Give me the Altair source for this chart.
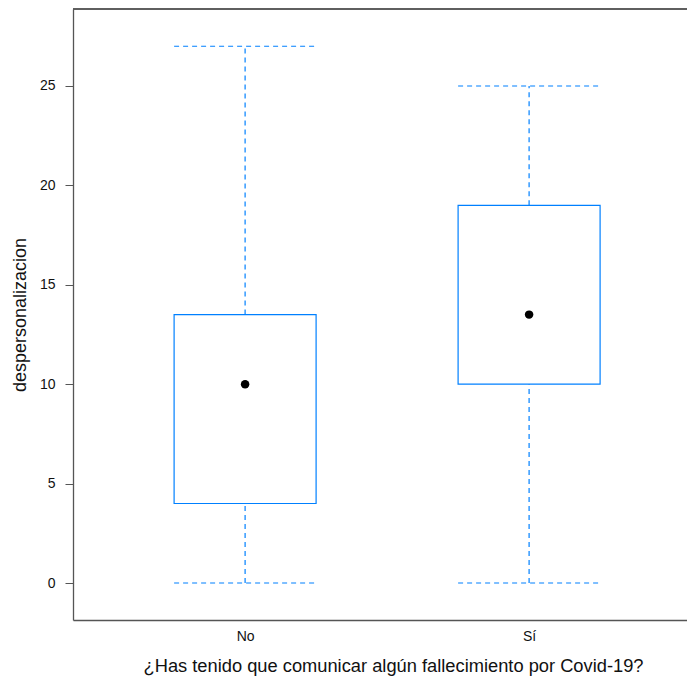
import altair as alt
import pandas as pd

# ---- data ----
categories = ["No", "Sí"]
positions = [1, 2]
whisker_low = [0, 0]
q1 = [4, 10]
median = [10, 13.5]
q3 = [13.5, 19]
whisker_high = [27, 25]
y_ticks = [0, 5, 10, 15, 20, 25]

df = pd.DataFrame({
    "cat": categories, "idx": positions, "lo": whisker_low, "q1": q1,
    "med": median, "q3": q3, "hi": whisker_high,
})

W, H = 614, 611
BLUE = "#0080ff"
FRAME = "#555555"
FONT = "Liberation Sans"
XDOM = [0.394, 2.556]
YDOM = [-1.861, 28.873]
HALF = 0.25

label_expr = " : ".join(
    f"datum.value == {p} ? '{c}'" for p, c in zip(positions, categories)
) + " : ''"

xscale = alt.Scale(domain=XDOM, nice=False, zero=False)
yscale = alt.Scale(domain=YDOM, nice=False, zero=False)

xaxis = alt.Axis(
    values=positions, labelExpr=label_expr, tickSize=0, grid=False,
    domainColor=FRAME, domainWidth=1.3, labelFont=FONT, labelFontSize=14,
    labelColor="#111111", labelPadding=9,
    title="¿Has tenido que comunicar algún fallecimiento por Covid-19?",
    titleFont=FONT, titleFontSize=18.3, titleFontWeight="normal", titleColor="#111111",
    titleX=320, titleY=46, titleBaseline="middle", titleAlign="center",
)
yaxis = alt.Axis(
    values=y_ticks, tickSize=8, tickColor=FRAME, grid=False,
    domainColor=FRAME, domainWidth=1.3, labelFont=FONT, labelFontSize=14,
    labelColor="#111111", labelPadding=10,
    title="despersonalizacion", titleFont=FONT, titleFontSize=18,
    titleFontWeight="normal", titleColor="#111111",
    titleX=-53, titleY=H / 2, titleBaseline="middle", titleAlign="center",
)

def X(field):
    return alt.X(field, type="quantitative", scale=xscale, axis=xaxis)

def Y(field):
    return alt.Y(field, type="quantitative", scale=yscale, axis=yaxis)

base = alt.Chart(df).transform_calculate(
    left=f"datum.idx - {HALF}", right=f"datum.idx + {HALF}"
)

dash = [5, 4]
whisk_lo = base.mark_rule(color=BLUE, strokeDash=dash, strokeWidth=1.2).encode(
    x=X("idx"), y=Y("lo"), y2="q1")
whisk_hi = base.mark_rule(color=BLUE, strokeDash=dash, strokeWidth=1.2).encode(
    x=X("idx"), y=Y("q3"), y2="hi")
cap_lo = base.mark_rule(color=BLUE, strokeDash=dash, strokeWidth=1.2).encode(
    x=X("left"), x2="right", y=Y("lo"))
cap_hi = base.mark_rule(color=BLUE, strokeDash=dash, strokeWidth=1.2).encode(
    x=X("left"), x2="right", y=Y("hi"))
box = base.mark_rect(fill="white", stroke=BLUE, strokeWidth=1.2).encode(
    x=X("left"), x2="right", y=Y("q1"), y2="q3")
dot = base.mark_point(filled=True, color="black", size=72, opacity=1).encode(
    x=X("idx"), y=Y("med"))
top = alt.Chart(df).mark_rule(color=FRAME, strokeWidth=1.3).encode(
    x=alt.value(0), x2=alt.value(W), y=alt.value(0))

chart = alt.layer(whisk_lo, whisk_hi, cap_lo, cap_hi, box, dot, top).properties(
    width=W, height=H, autosize="none",
    padding={"left": 65, "top": 1, "right": 0, "bottom": 58},
).configure_view(stroke=None)

chart.save("out.html", embed_options={"renderer": "svg", "actions": False})
